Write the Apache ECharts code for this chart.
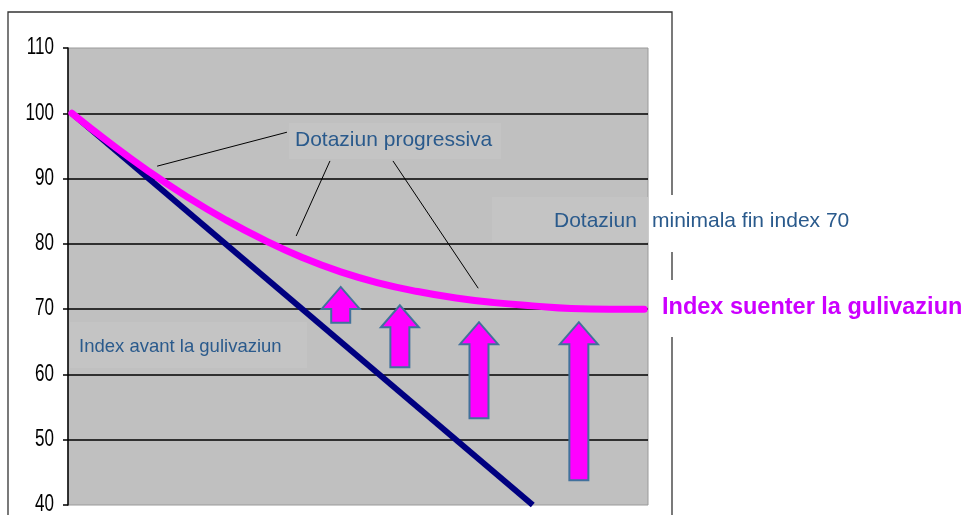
<!DOCTYPE html>
<html>
<head>
<meta charset="utf-8">
<script src="https://cdn.jsdelivr.net/npm/echarts@6/dist/echarts.min.js"></script>
<style>
html,body{margin:0;padding:0;background:#fff;}
#chart{width:970px;height:515px;}
</style>
</head>
<body>
<div id="chart"></div>
<script>
// ---- data ----
const yTicks = [40, 50, 60, 70, 80, 90, 100, 110];
const xRange = [-0.5, 75];
const afterX = [0, 5, 10, 15, 20, 25, 30, 35, 40, 45, 50, 55, 60, 65, 70, 74.5];
const indexAfter = [100, 95.4, 91.1, 87.2, 83.7, 80.6, 77.9, 75.7, 74.0, 72.7, 71.7, 71.0, 70.5, 70.1, 70, 70];
const beforeX = [0, 60];
const indexBefore = [100, 40];
const arrowX = [35, 42.7, 53, 66];
const arrowFrom = [67.9, 61.1, 53.3, 43.8];
const arrowTo = [73.4, 70.6, 68, 68];

const labelProgressiva = 'Dotaziun progressiva';
const labelMinimalA = 'Dotaziun';
const labelMinimalB = 'minimala fin index 70';
const labelBefore = 'Index avant la gulivaziun';
const labelAfter = 'Index suenter la gulivaziun';

// leader lines (annotation geometry in data coords)
const leaders = [
  [[11.1, 91.9], [28.0, 97.1]],
  [[33.6, 92.7], [29.2, 81.2]],
  [[41.8, 92.7], [52.9, 73.2]]
];

const afterData = afterX.map((x, i) => [x, indexAfter[i]]);
const beforeData = beforeX.map((x, i) => [x, indexBefore[i]]);
const arrowData = arrowX.map((x, i) => [x, arrowFrom[i], arrowTo[i]]);

const chart = echarts.init(document.getElementById('chart'), null, {renderer: 'canvas'});

const txtFont = "'Liberation Sans', Arial, sans-serif";
const txtColor = '#2A5A8C';

chart.setOption({
  animation: false,
  backgroundColor: '#ffffff',
  grid: {
    left: 68, right: 322, top: 48, bottom: 10,
    show: true, backgroundColor: '#c0c0c0', borderColor: '#9a9a9a', borderWidth: 1
  },
  xAxis: {
    type: 'value', min: xRange[0], max: xRange[1], show: false
  },
  yAxis: {
    type: 'value',
    min: yTicks[0], max: yTicks[yTicks.length - 1], interval: 10,
    axisLine: {show: true, onZero: false, lineStyle: {color: '#000', width: 1.5}},
    axisTick: {show: true, length: 5, lineStyle: {color: '#000', width: 1.5}},
    axisLabel: {show: false},
    splitLine: {show: true, showMinLine: false, showMaxLine: false, lineStyle: {color: '#000', width: 1.6}}
  },
  series: [
    {
      type: 'line', data: beforeData, symbol: 'none', z: 3,
      lineStyle: {color: '#000080', width: 6}
    },
    {
      type: 'line', data: afterData, symbol: 'none', smooth: 0.5, z: 4,
      lineStyle: {color: '#FF00FF', width: 7, cap: 'round', join: 'round'},
      markLine: {
        silent: true, symbol: ['none', 'none'], animation: false,
        label: {show: false},
        lineStyle: {color: '#000', width: 1, type: 'solid'},
        emphasis: {disabled: true},
        data: leaders.map(l => [{coord: l[0]}, {coord: l[1]}])
      }
    },
    {
      type: 'custom', z: 5,
      data: arrowData,
      renderItem: function (params, api) {
        const x = api.value(0);
        const pb = api.coord([x, api.value(1)]);
        const pt = api.coord([x, api.value(2)]);
        const cx = pb[0], yb = pb[1], yt = pt[1];
        const hw = 19, hh = 22, sw = 9.5;
        return {
          type: 'polygon',
          shape: {points: [
            [cx - sw, yb], [cx - sw, yt + hh], [cx - hw, yt + hh], [cx, yt],
            [cx + hw, yt + hh], [cx + sw, yt + hh], [cx + sw, yb]
          ]},
          style: {fill: '#FF00FF', stroke: '#41719C', lineWidth: 2}
        };
      }
    }
  ]
});

// y tick labels: narrow look, positioned through the y axis scale
const tickLabels = yTicks.map(v => {
  const py = chart.convertToPixel({yAxisIndex: 0}, v);
  return {type: 'text', z: 20, x: 54, y: py, scaleX: 0.74, silent: true,
    style: {text: String(v), fill: '#000', font: '23px ' + txtFont, textAlign: 'right', textVerticalAlign: 'middle'}};
});

chart.setOption({
  graphic: [
    {type: 'rect', z: 0, shape: {x: 8, y: 12, width: 664, height: 600},
     style: {fill: 'none', stroke: '#333', lineWidth: 1.3}, silent: true},
    {type: 'rect', z: 1, shape: {x: 289, y: 123, width: 212, height: 36}, style: {fill: '#c4c4c4'}, silent: true},
    {type: 'rect', z: 1, shape: {x: 492, y: 197, width: 156, height: 45}, style: {fill: '#c4c4c4'}, silent: true},
    {type: 'rect', z: 1, shape: {x: 70, y: 322, width: 237, height: 46}, style: {fill: '#c4c4c4'}, silent: true},
    {type: 'rect', z: 10, shape: {x: 649, y: 195, width: 212, height: 57}, style: {fill: '#fff'}, silent: true},
    {type: 'rect', z: 10, shape: {x: 650, y: 280, width: 318, height: 57}, style: {fill: '#fff'}, silent: true},
    {type: 'text', z: 20, x: 295, y: 140, silent: true,
     style: {text: labelProgressiva, fill: txtColor, font: '21px ' + txtFont, textVerticalAlign: 'middle'}},
    {type: 'text', z: 20, x: 554, y: 221, silent: true,
     style: {text: labelMinimalA, fill: txtColor, font: '21px ' + txtFont, textVerticalAlign: 'middle'}},
    {type: 'text', z: 20, x: 652, y: 221, silent: true,
     style: {text: labelMinimalB, fill: txtColor, font: '21px ' + txtFont, textVerticalAlign: 'middle'}},
    {type: 'text', z: 20, x: 79, y: 347, silent: true,
     style: {text: labelBefore, fill: txtColor, font: '18.5px ' + txtFont, textVerticalAlign: 'middle'}},
    {type: 'text', z: 20, x: 662, y: 308, silent: true,
     style: {text: labelAfter, fill: '#CC00FF', font: 'bold 23.5px ' + txtFont, textVerticalAlign: 'middle'}}
  ].concat(tickLabels)
});
</script>
</body>
</html>
